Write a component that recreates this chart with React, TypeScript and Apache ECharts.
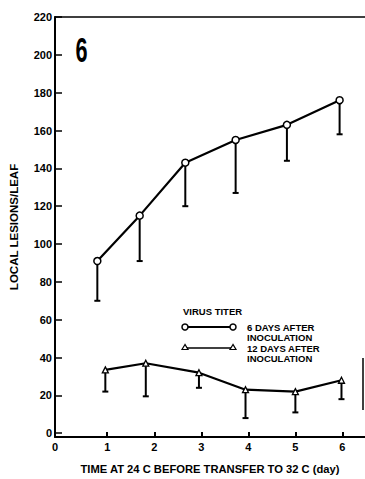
import React, { useEffect, useRef } from "react";
import * as echarts from "echarts";

const yTicks = [0, 20, 40, 60, 80, 100, 120, 140, 160, 180, 200, 220];
const xTicks = [1, 2, 3, 4, 5, 6];

const days6 = [0.79, 1.69, 2.66, 3.73, 4.82, 5.94];
const lesions6 = [91, 115, 143, 155, 163, 176];
const low6 = [70, 91, 120, 127, 144, 158];

const days12 = [0.96, 1.82, 2.95, 3.94, 5.0, 5.98];
const lesions12 = [33.5, 37, 32, 23, 22, 28];
const low12 = [22, 19.5, 24, 8, 11, 18];

const FONT = '"Liberation Sans", Arial, Helvetica, sans-serif';

function errRender(params: any, api: any) {
  const x = api.value(0);
  const y = api.value(1);
  const lo = api.value(2);
  const p1 = api.coord([x, y]);
  const p2 = api.coord([x, lo]);
  return {
    type: "group",
    children: [
      {
        type: "line",
        shape: { x1: p1[0], y1: p1[1], x2: p2[0], y2: p2[1] },
        style: { stroke: "#000", lineWidth: 2 },
      },
      {
        type: "line",
        shape: { x1: p2[0] - 3, y1: p2[1], x2: p2[0] + 3, y2: p2[1] },
        style: { stroke: "#000", lineWidth: 2 },
      },
    ],
  };
}

export default function App() {
  const ref = useRef<HTMLDivElement>(null);
  useEffect(() => {
    if (!ref.current) return;
    const chart = echarts.init(ref.current, undefined, { renderer: "svg" });
    const legendText = (x: number, y: number, t: string) => ({
      type: "text",
      x,
      y,
      style: {
        text: t,
        fill: "#000",
        font: `bold 9.5px ${FONT}`,
        textAlign: "left",
        textVerticalAlign: "middle",
      },
    });
    const tri = (cx: number, cy: number) => ({
      type: "polygon",
      shape: { points: [[cx, cy - 3], [cx - 3, cy + 2], [cx + 3, cy + 2]] },
      style: { fill: "#fff", stroke: "#000", lineWidth: 1.2 },
    });
    chart.setOption({
      animation: false,
      backgroundColor: "#fff",
      grid: { left: 51, top: 17, right: 0, bottom: 36, containLabel: false },
      xAxis: [
        {
          type: "value",
          min: -0.11,
          max: 6.48,
          axisLine: { show: true, onZero: false, lineStyle: { color: "#000", width: 2 } },
          axisTick: {
            show: true,
            inside: true,
            length: 5,
            customValues: xTicks,
            lineStyle: { color: "#000", width: 2 },
          },
          axisLabel: {
            show: true,
            customValues: [-0.11, ...xTicks],
            formatter: (v: number) => (v < 0.5 ? "0" : String(Math.round(v))),
            color: "#000",
            fontWeight: "bold",
            fontSize: 11,
            fontFamily: FONT,
            margin: 4,
          },
          splitLine: { show: false },
          name: "TIME AT 24 C BEFORE TRANSFER TO 32 C (day)",
          nameLocation: "middle",
          nameGap: 26,
          nameTextStyle: { color: "#000", fontWeight: "bold", fontSize: 11.2, fontFamily: FONT },
        },
        {
          type: "value",
          position: "top",
          min: -0.11,
          max: 6.48,
          axisLine: { show: true, onZero: false, lineStyle: { color: "#000", width: 1.5 } },
          axisTick: { show: false },
          axisLabel: { show: false },
          splitLine: { show: false },
        },
      ],
      yAxis: {
        type: "value",
        min: -2,
        max: 220,
        axisLine: { show: true, onZero: false, lineStyle: { color: "#000", width: 2 } },
        axisTick: {
          show: true,
          inside: true,
          length: 7,
          customValues: yTicks,
          lineStyle: { color: "#000", width: 1.5 },
        },
        axisLabel: {
          show: true,
          customValues: yTicks,
          color: "#000",
          fontWeight: "bold",
          fontSize: 11,
          fontFamily: FONT,
          margin: 3,
        },
        splitLine: { show: false },
        name: "LOCAL LESIONS/LEAF",
        nameLocation: "middle",
        nameGap: 35,
        nameRotate: 90,
        nameTextStyle: { color: "#000", fontWeight: "bold", fontSize: 11.5, fontFamily: FONT },
      },
      series: [
        {
          type: "custom",
          renderItem: errRender,
          data: days6.map((d, i) => [d, lesions6[i], low6[i]]),
          z: 1,
          silent: true,
        },
        {
          type: "custom",
          renderItem: errRender,
          data: days12.map((d, i) => [d, lesions12[i], low12[i]]),
          z: 1,
          silent: true,
        },
        {
          name: "6 DAYS AFTER INOCULATION",
          type: "line",
          data: days6.map((d, i) => [d, lesions6[i]]),
          symbol: "circle",
          symbolSize: 7,
          lineStyle: { color: "#000", width: 2.2 },
          itemStyle: { color: "#fff", borderColor: "#000", borderWidth: 1.5 },
          z: 3,
        },
        {
          name: "12 DAYS AFTER INOCULATION",
          type: "line",
          data: days12.map((d, i) => [d, lesions12[i]]),
          symbol: "triangle",
          symbolSize: 6,
          lineStyle: { color: "#000", width: 2.2 },
          itemStyle: { color: "#fff", borderColor: "#000", borderWidth: 1.3 },
          z: 3,
        },
      ],
      graphic: [
        {
          type: "text",
          x: 81.5,
          y: 49.5,
          scaleX: 0.62,
          style: {
            text: "6",
            fill: "#000",
            font: `bold 35px ${FONT}`,
            textAlign: "center",
            textVerticalAlign: "middle",
          },
        },
        {
          type: "line",
          shape: { x1: 363, y1: 358, x2: 363, y2: 410 },
          style: { stroke: "#000", lineWidth: 1.5 },
        },
        legendText(183, 311, "VIRUS TITER"),
        {
          type: "line",
          shape: { x1: 185, y1: 327, x2: 233, y2: 327 },
          style: { stroke: "#000", lineWidth: 2 },
        },
        {
          type: "circle",
          shape: { cx: 185, cy: 327, r: 3 },
          style: { fill: "#fff", stroke: "#000", lineWidth: 1.5 },
        },
        {
          type: "circle",
          shape: { cx: 233, cy: 327, r: 3 },
          style: { fill: "#fff", stroke: "#000", lineWidth: 1.5 },
        },
        legendText(247, 327, "6 DAYS AFTER"),
        legendText(247, 337.5, "INOCULATION"),
        {
          type: "line",
          shape: { x1: 185, y1: 348, x2: 233, y2: 348 },
          style: { stroke: "#000", lineWidth: 1.6 },
        },
        tri(185, 347.5),
        tri(233, 347.5),
        legendText(247, 348, "12 DAYS AFTER"),
        legendText(247, 358.5, "INOCULATION"),
      ],
    });
    return () => chart.dispose();
  }, []);
  return (
    <div
      ref={ref}
      style={{ position: "fixed", left: 0, top: 0, width: 365, height: 479, background: "#fff" }}
    />
  );
}
